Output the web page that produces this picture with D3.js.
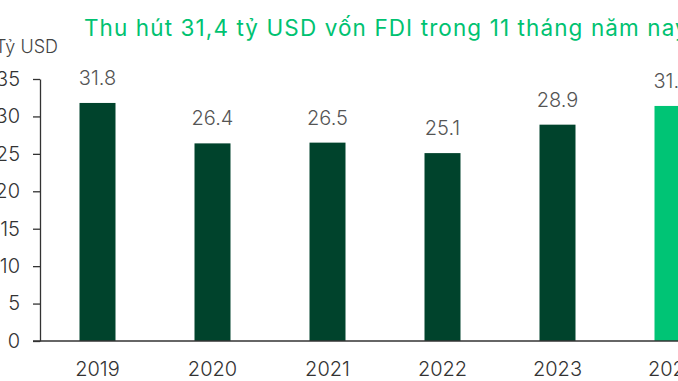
<!DOCTYPE html>
<html>
<head>
<meta charset="utf-8">
<script src="https://cdn.jsdelivr.net/npm/d3@7"></script>
<style>
  body { margin: 0; background: #fff; }
  svg { display: block; font-family: Inter, "Noto Sans", sans-serif; }
</style>
</head>
<body>
<div id="chart-area"></div>
<script>
var years = ["2019", "2020", "2021", "2022", "2023", "2024"];
var values = [31.8, 26.4, 26.5, 25.1, 28.9, 31.4];
var yTicks = [0, 5, 10, 15, 20, 25, 30, 35];

var width = 678;
var height = 381;

var svg = d3.select("#chart-area").append("svg")
  .attr("width", width)
  .attr("height", height)

var x = d3.scaleBand()
  .domain(years)
  .range([40, 730])
  .paddingInner(0.687)
  .paddingOuter(0.3435)

var y = d3.scaleLinear()
  .domain([0, 35])
  .range([341, 79])

// Title
svg.append("text")
  .attr("x", 84)
  .attr("y", 36)
  .attr("font-family", "Inter")
  .attr("font-size", "22.5px")
  .attr("letter-spacing", "1.1px")
  .style("fill", "#00c271")
  .text("Thu hút 31,4 tỷ USD vốn FDI trong 11 tháng năm nay")

// unit label
svg.append("text")
  .attr("x", -5)
  .attr("y", 53)
  .attr("font-family", "Inter")
  .attr("font-size", "18px")
  .attr("font-weight", 300)
  .style("fill", "#444")
  .text("Tỷ USD")

// y axis
var yAxis = svg.append("g")
  .attr("transform", "translate(40,0)")
  .call(d3.axisLeft(y).tickValues(yTicks).tickSize(7).tickPadding(13).tickSizeOuter(0))

yAxis.select(".domain").attr("stroke", "#333").attr("stroke-width", 1.3)
yAxis.selectAll(".tick line").attr("stroke", "#333").attr("stroke-width", 1.3)
yAxis.selectAll(".tick text")
  .attr("font-size", "20px")
  .attr("font-weight", 300)
  .attr("font-family", "Inter")
  .style("fill", "#333")

// bars
svg.selectAll("rect.bar").data(values).enter().append("rect")
  .attr("class", "bar")
  .attr("x", (d, i) => x(years[i]))
  .attr("y", d => y(d))
  .attr("width", x.bandwidth())
  .attr("height", d => y(0) - y(d))
  .attr("fill", (d, i) => i == years.length - 1 ? "#00c475" : "#00432c")

// x axis
svg.append("line")
  .attr("x1", 33)
  .attr("x2", width)
  .attr("y1", y(0))
  .attr("y2", y(0))
  .attr("stroke", "#333")
  .attr("stroke-width", 1.3)

svg.selectAll("text.year").data(years).enter().append("text")
  .attr("class", "year")
  .attr("x", d => x(d) + x.bandwidth() / 2)
  .attr("y", 376)
  .attr("text-anchor", "middle")
  .attr("font-family", "Inter")
  .attr("font-size", "20px")
  .attr("font-weight", 300)
  .style("fill", "#333")
  .text(d => d)

// value labels
svg.selectAll("text.val").data(values).enter().append("text")
  .attr("class", "val")
  .attr("x", (d, i) => x(years[i]) + x.bandwidth() / 2)
  .attr("y", d => y(d) - 18)
  .attr("text-anchor", "middle")
  .attr("font-family", "Inter")
  .attr("font-size", "20px")
  .attr("font-weight", 300)
  .style("fill", "#555")
  .text(d => d.toFixed(1))
</script>
</body>
</html>
